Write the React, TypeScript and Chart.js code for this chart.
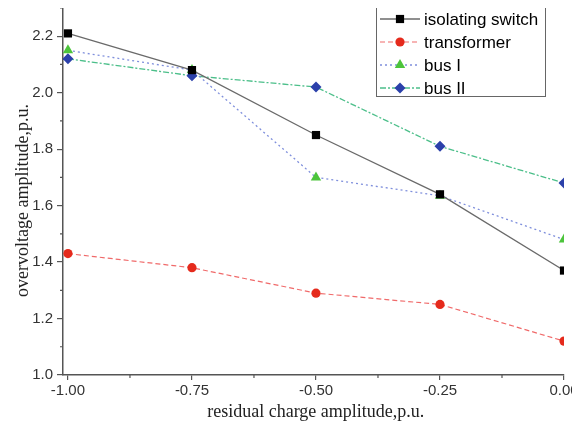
import React, { useEffect, useRef } from "react";
import { Chart, registerables } from "chart.js";

Chart.register(...registerables);

const xValues = [-1.0, -0.75, -0.5, -0.25, 0.0];
const isolatingSwitch = [2.21, 2.08, 1.85, 1.64, 1.37];
const transformer = [1.43, 1.38, 1.29, 1.25, 1.12];
const busI = [2.15, 2.08, 1.7, 1.635, 1.48];
const busII = [2.12, 2.06, 2.02, 1.81, 1.68];
const seriesNames = ["isolating switch", "transformer", "bus I", "bus II"];
const xTicks = [-1.0, -0.75, -0.5, -0.25, 0.0];
const xMinorTicks = [-0.875, -0.625, -0.375, -0.125];
const yTicks = [1.0, 1.2, 1.4, 1.6, 1.8, 2.0, 2.2];
const yMinorTicks = [1.1, 1.3, 1.5, 1.7, 1.9, 2.1, 2.3];

const AXIS = "#555";
const SANS = "Arial, 'Liberation Sans', sans-serif";
const SERIF = "'Times New Roman', 'Liberation Serif', serif";

function drawMarker(ctx: CanvasRenderingContext2D, style: string, x: number, y: number, r: number, fill: string) {
  ctx.save();
  ctx.fillStyle = fill;
  ctx.beginPath();
  if (style === "rect") {
    const s = r * Math.SQRT1_2;
    ctx.rect(x - s, y - s, 2 * s, 2 * s);
  } else if (style === "circle") {
    ctx.arc(x, y, r, 0, Math.PI * 2);
  } else if (style === "triangle") {
    ctx.moveTo(x, y - r);
    ctx.lineTo(x + r * Math.cos(Math.PI / 6), y + r * 0.5);
    ctx.lineTo(x - r * Math.cos(Math.PI / 6), y + r * 0.5);
    ctx.closePath();
  } else {
    ctx.moveTo(x - r, y);
    ctx.lineTo(x, y - r);
    ctx.lineTo(x + r, y);
    ctx.lineTo(x, y + r);
    ctx.closePath();
  }
  ctx.fill();
  ctx.restore();
}

const minorTicksPlugin = {
  id: "minorTicks",
  afterDraw(chart: any) {
    const ctx = chart.ctx;
    const xs = chart.scales.x;
    const ys = chart.scales.y;
    ctx.save();
    ctx.strokeStyle = AXIS;
    ctx.lineWidth = 1.2;
    ctx.beginPath();
    for (const v of xMinorTicks) {
      const px = xs.getPixelForValue(v);
      ctx.moveTo(px, chart.chartArea.bottom);
      ctx.lineTo(px, chart.chartArea.bottom + 3);
    }
    for (const v of yMinorTicks) {
      const py = ys.getPixelForValue(v);
      ctx.moveTo(chart.chartArea.left, py);
      ctx.lineTo(chart.chartArea.left - 3, py);
    }
    ctx.stroke();
    ctx.restore();
  },
};

const legendPlugin = {
  id: "boxLegend",
  afterDraw(chart: any) {
    const ctx = chart.ctx;
    const bx = 376, by = 6, bw = 169, bh = 90;
    ctx.save();
    ctx.fillStyle = "#fff";
    ctx.fillRect(bx, by, bw, bh);
    ctx.strokeStyle = "#666";
    ctx.lineWidth = 1;
    ctx.strokeRect(bx + 0.5, by + 0.5, bw, bh);
    chart.data.datasets.forEach((ds: any, i: number) => {
      const y = by + 13 + i * 23;
      ctx.save();
      ctx.strokeStyle = ds.borderColor;
      ctx.lineWidth = ds.borderWidth;
      ctx.setLineDash(ds.borderDash || []);
      ctx.beginPath();
      ctx.moveTo(bx + 4, y);
      ctx.lineTo(bx + 44, y);
      ctx.stroke();
      ctx.restore();
      drawMarker(ctx, ds.pointStyle, bx + 24, y, ds.pointRadius, ds.pointBackgroundColor);
      ctx.fillStyle = "#000";
      ctx.font = `17px ${SANS}`;
      ctx.textBaseline = "middle";
      ctx.textAlign = "left";
      ctx.fillText(ds.label, bx + 48, y + 1);
    });
    ctx.restore();
  },
};

export default function App() {
  const ref = useRef<HTMLCanvasElement | null>(null);

  useEffect(() => {
    if (!ref.current) return;
    const mk = (data: number[]) => xValues.map((x, i) => ({ x, y: data[i] }));
    const chart = new Chart(ref.current, {
      type: "line",
      data: {
        datasets: [
          {
            label: seriesNames[0],
            data: mk(isolatingSwitch),
            borderColor: "#6a6a6a",
            borderWidth: 1.3,
            borderDash: [],
            pointStyle: "rect",
            pointRadius: 5.8,
            pointBackgroundColor: "#000",
            pointBorderWidth: 0,
            pointBorderColor: "#000",
          },
          {
            label: seriesNames[1],
            data: mk(transformer),
            borderColor: "#f06a6a",
            borderWidth: 1.2,
            borderDash: [5, 3],
            pointStyle: "circle",
            pointRadius: 4.6,
            pointBackgroundColor: "#e52a1c",
            pointBorderWidth: 0,
            pointBorderColor: "#e52a1c",
          },
          {
            label: seriesNames[2],
            data: mk(busI),
            borderColor: "#7f8fdc",
            borderWidth: 1.3,
            borderDash: [2, 3],
            pointStyle: "triangle",
            pointRadius: 6,
            pointBackgroundColor: "#4cc43c",
            pointBorderWidth: 0,
            pointBorderColor: "#4cc43c",
          },
          {
            label: seriesNames[3],
            data: mk(busII),
            borderColor: "#4cbf8a",
            borderWidth: 1.3,
            borderDash: [6, 2, 2, 2],
            pointStyle: "rectRot",
            pointRadius: 5.5,
            pointBackgroundColor: "#2b40aa",
            pointBorderWidth: 0,
            pointBorderColor: "#2b40aa",
          },
        ],
      },
      options: {
        animation: false,
        responsive: false,
        layout: { padding: { top: 8, left: 0, right: 16, bottom: 0 } },
        plugins: { legend: { display: false }, tooltip: { enabled: false } },
        scales: {
          x: {
            type: "linear",
            min: -1.01,
            max: 0,
            afterBuildTicks: (s: any) => {
              s.ticks = xTicks.map((v) => ({ value: v }));
            },
            afterFit: (s: any) => {
              s.height = 56;
              s.paddingRight = 0;
              s.paddingLeft = 0;
            },
            ticks: {
              callback: (v: any) => Number(v).toFixed(2),
              font: { family: SANS, size: 15 },
              color: "#333",
              padding: 2,
              maxRotation: 0,
            },
            grid: { drawOnChartArea: false, drawTicks: true, tickLength: 5, color: AXIS, lineWidth: 1.2 },
            border: { display: true, color: AXIS, width: 1.5 },
            title: {
              display: true,
              text: " residual charge amplitude,p.u.",
              font: { family: SERIF, size: 18 },
              color: "#222",
              padding: { top: 0, bottom: 8 },
            },
          },
          y: {
            type: "linear",
            min: 1.0,
            max: 2.3,
            afterBuildTicks: (s: any) => {
              s.ticks = yTicks.map((v) => ({ value: v }));
            },
            afterFit: (s: any) => {
              s.width = 63;
              s.paddingTop = 0;
              s.paddingBottom = 0;
            },
            ticks: {
              callback: (v: any) => Number(v).toFixed(1),
              font: { family: SANS, size: 15 },
              color: "#333",
              padding: 4,
            },
            grid: { drawOnChartArea: false, drawTicks: true, tickLength: 6, color: AXIS, lineWidth: 1.2 },
            border: { display: true, color: AXIS, width: 1.5 },
            title: {
              display: true,
              text: "overvoltage amplitude,p.u.    ",
              font: { family: SERIF, size: 18 },
              color: "#222",
              padding: { top: 12, bottom: 0 },
            },
          },
        },
      },
      plugins: [minorTicksPlugin, legendPlugin],
    });
    return () => chart.destroy();
  }, []);

  return (
    <div style={{ margin: -8, width: 580, height: 431, overflow: "hidden" }}>
      <canvas ref={ref} width={580} height={431} style={{ display: "block" }} />
    </div>
  );
}
